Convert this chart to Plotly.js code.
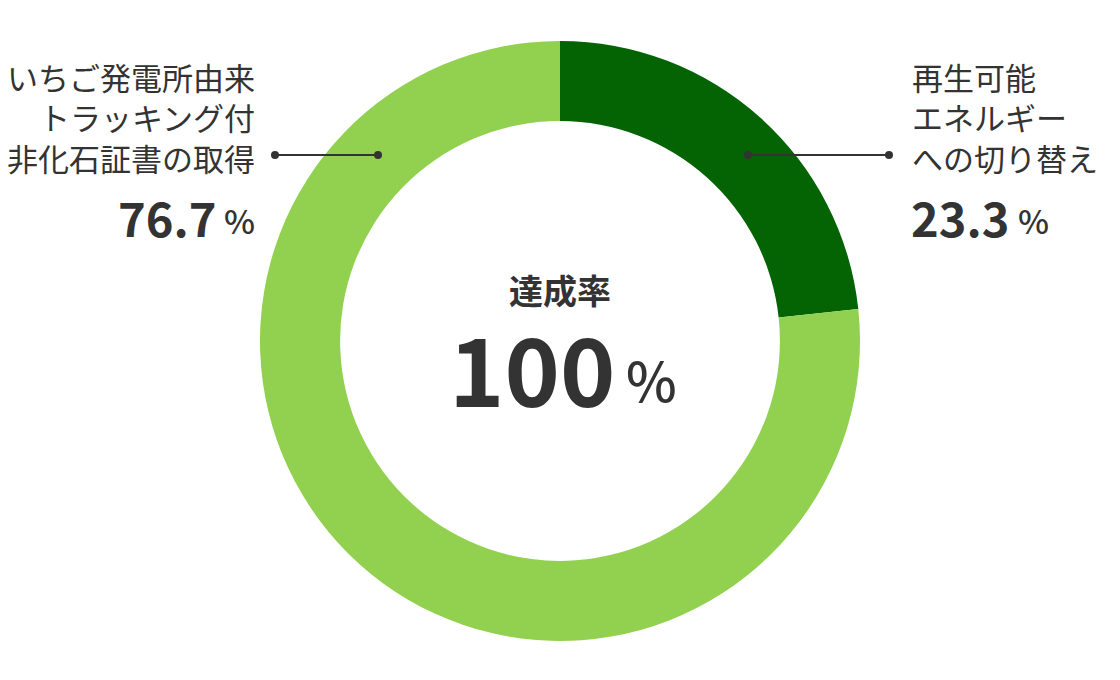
<!DOCTYPE html>
<html>
<head>
<meta charset="utf-8">
<script src="https://cdn.plot.ly/plotly-3.0.1.min.js"></script>
<style>
  html, body { margin: 0; padding: 0; background: #fff; }
  #chart { width: 1120px; height: 680px; }
</style>
</head>
<body>
<div id="chart"></div>
<script>
const labels = ["再生可能<br>エネルギー<br>への切り替え", "いちご発電所由来<br>トラッキング付<br>非化石証書の取得"];
const values = [23.3, 76.7];
const colors = ["#046404", "#92d050"];
const centerTitle = "達成率";
const centerValue = "100";

const W = 1120, H = 680;
const px = x => x / W;
const py = y => 1 - y / H;
const textColor = "#333333";
const jp = "Noto Sans CJK JP";

// connector line with a dot at each end
function connector(x0, x1, y) {
  const r = 4;
  return [
    { type: "line", xref: "paper", yref: "paper", x0: px(x0), x1: px(x1), y0: py(y), y1: py(y),
      line: { color: textColor, width: 2 } },
    { type: "circle", xref: "paper", yref: "paper", x0: px(x0 - r), x1: px(x0 + r), y0: py(y - r), y1: py(y + r),
      fillcolor: textColor, line: { width: 0 } },
    { type: "circle", xref: "paper", yref: "paper", x0: px(x1 - r), x1: px(x1 + r), y0: py(y - r), y1: py(y + r),
      fillcolor: textColor, line: { width: 0 } }
  ];
}

function note(text, x, y, xanchor, size, weight, align) {
  return {
    text: text,
    xref: "paper", yref: "paper", x: px(x), y: py(y),
    xanchor: xanchor, yanchor: "middle", align: align || xanchor,
    showarrow: false,
    font: { family: jp, size: size, color: textColor, weight: weight }
  };
}

const annotations = [
  // left (second slice)
  note(labels[1], 257, 117, "right", 31, 400, "right"),
  note(values[1].toFixed(1), 218, 216, "right", 47, 700),
  note("%", 257, 220, "right", 33, 500),
  // right (first slice)
  note(labels[0], 910, 117, "left", 31, 400, "left"),
  note(values[0].toFixed(1), 909, 216, "left", 47, 700),
  note("%", 1016, 220, "left", 33, 500),
  // center
  note(centerTitle, 560, 289, "center", 34, 700),
  note(centerValue, 532, 366, "center", 94, 700),
  note("%", 651, 378, "center", 54, 500)
];

Plotly.newPlot("chart", [{
  type: "pie",
  labels: labels,
  values: values,
  marker: { colors: colors, line: { width: 0 } },
  hole: 0.733,
  sort: false,
  direction: "clockwise",
  rotation: 0,
  textinfo: "none",
  hoverinfo: "none",
  domain: { x: [px(260), px(860)], y: [py(641), py(41)] }
}], {
  width: W, height: H,
  margin: { l: 0, r: 0, t: 0, b: 0 },
  paper_bgcolor: "#ffffff",
  showlegend: false,
  annotations: annotations,
  shapes: [].concat(connector(275, 378, 155), connector(748, 889, 155))
}, { displayModeBar: false, staticPlot: true });
</script>
</body>
</html>
